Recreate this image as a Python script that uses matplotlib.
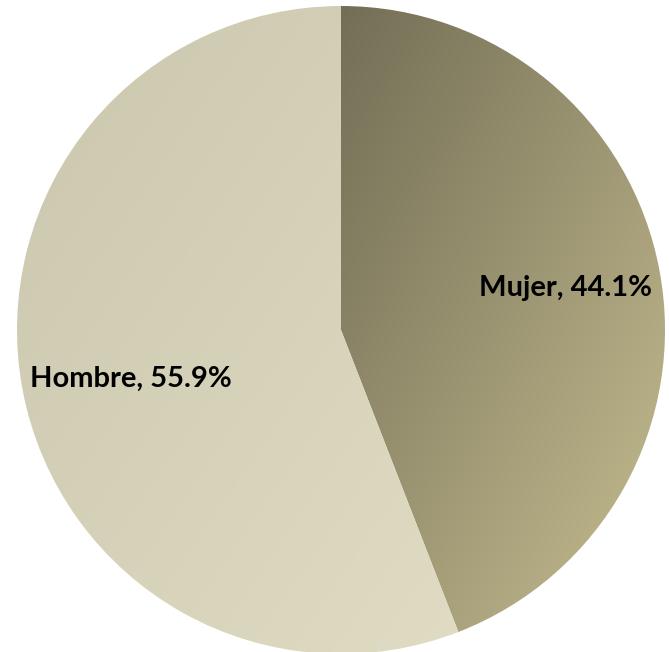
import matplotlib.pyplot as plt
import numpy as np
from matplotlib.colors import LinearSegmentedColormap

labels = ["Mujer", "Hombre"]
shares = [44.1, 55.9]
# gradient end colours per slice (top-left -> bottom-right)
grad_colors = [("#736e56", "#c6bd90"), ("#cbc7ae", "#e0dcc3")]

W, H = 669, 652
fig = plt.figure(figsize=(W / 100, H / 100), dpi=100)
ax = fig.add_axes([0, 0, 1, 1])

center = (341, 322)
radius = 324

wedges, texts = ax.pie(
    shares,
    labels=[f"{l}, {s:.1f}%" for l, s in zip(labels, shares)],
    startangle=90,
    counterclock=False,
    center=center,
    radius=radius,
    labeldistance=0.7,
    frame=True,
    wedgeprops={"linewidth": 0},
    textprops={"fontsize": 21, "fontweight": "bold", "family": ["Lato", "DejaVu Sans"],
               "ha": "center", "va": "center"},
)

# linear gradient fill clipped to each wedge
yy, xx = np.mgrid[0:1:256j, 0:1:256j]
t = (xx + (1 - yy)) / 2  # 0 at top-left, 1 at bottom-right (origin lower)
for w, (c0, c1) in zip(wedges, grad_colors):
    w.set_facecolor("none")
    x0, y0, x1, y1 = w.get_path().get_extents(w.get_transform() - ax.transData).extents
    cmap = LinearSegmentedColormap.from_list("g", [c0, c1])
    im = ax.imshow(t, cmap=cmap, extent=(x0, x1, y0, y1), origin="lower",
                   vmin=0, vmax=1, zorder=0.5, aspect="auto")
    im.set_clip_path(w)

# small nudges so labels sit where the original puts them
for t_, (dx, dy) in zip(texts, [(2, 0), (13, -7)]):
    x, y = t_.get_position()
    t_.set_position((x + dx, y + dy))
    t_.set_zorder(3)

ax.set_xlim(0, W)
ax.set_ylim(0, H)
ax.set_axis_off()
fig.savefig("out.png", dpi=100)
